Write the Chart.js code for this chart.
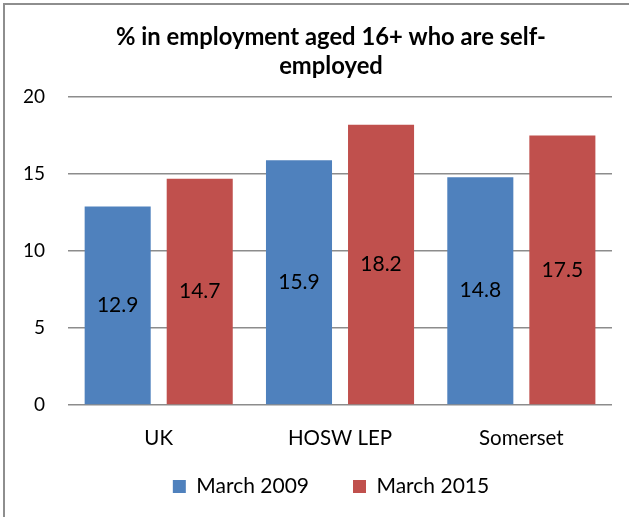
<!DOCTYPE html>
<html>
<head>
<meta charset="utf-8">
<script src="https://cdn.jsdelivr.net/npm/chart.js@4.4.1/dist/chart.umd.min.js"></script>
<style>
  html, body { margin: 0; padding: 0; background: #fff; }
  #wrap { position: relative; width: 629px; height: 517px; }
  #frame { position: absolute; left: 3px; top: 3px; right: 0; bottom: 0;
           border-top: 2px solid #8e8e8e; border-left: 2px solid #8e8e8e; pointer-events: none; }
  canvas { position: absolute; left: 0; top: 0; }
</style>
</head>
<body>
<div id="wrap">
  <canvas id="c" width="629" height="517"></canvas>
  <div id="frame"></div>
</div>
<script>
const titleLines = ['% in employment aged 16+ who are self-', 'employed'];
const categories = ['UK', 'HOSW LEP', 'Somerset'];
const seriesNames = ['March 2009', 'March 2015'];
const march2009 = [12.9, 15.9, 14.8];
const march2015 = [14.7, 18.2, 17.5];
const yTicks = [0, 5, 10, 15, 20];

const FONT = 'Lato, Calibri, Carlito, sans-serif';

const valueLabels = {
  id: 'valueLabels',
  afterDatasetsDraw(chart) {
    const ctx = chart.ctx;
    ctx.save();
    ctx.font = '21px ' + FONT;
    ctx.fillStyle = '#000';
    ctx.textAlign = 'center';
    ctx.textBaseline = 'middle';
    chart.data.datasets.forEach((ds, di) => {
      const meta = chart.getDatasetMeta(di);
      meta.data.forEach((el, i) => {
        const v = ds.data[i];
        ctx.fillText(v.toFixed(1), el.x, (el.y + el.base) / 2);
      });
    });
    ctx.restore();
  }
};

// Centre title/legend like the reference and lift the legend row
const shiftBoxes = {
  id: 'shiftBoxes',
  afterLayout(chart) {
    if (chart.titleBlock) chart.titleBlock.left = 50;
    if (chart.legend) {
      chart.legend.left = 50;
      chart.legend.top -= 36;
    }
  }
};

new Chart(document.getElementById('c'), {
  type: 'bar',
  data: {
    labels: categories,
    datasets: [
      { label: seriesNames[0], data: march2009, backgroundColor: '#4F81BD',
        categoryPercentage: 0.905, barPercentage: 0.805 },
      { label: seriesNames[1], data: march2015, backgroundColor: '#C0504D',
        categoryPercentage: 0.905, barPercentage: 0.805 }
    ]
  },
  options: {
    responsive: false,
    animation: false,
    events: [],
    layout: { padding: { left: 0, right: 17, top: 4, bottom: 7 } },
    plugins: {
      title: {
        display: true,
        text: titleLines,
        color: '#000',
        font: { family: FONT, size: 23.8, weight: 'bold', lineHeight: 1.22 },
        padding: { top: 18.5, bottom: 16.5 }
      },
      legend: {
        display: true,
        position: 'bottom',
        maxHeight: 42,
        labels: {
          color: '#000',
          font: { family: FONT, size: 21 },
          boxWidth: 13, boxHeight: 13,
          padding: 44
        }
      },
      tooltip: { enabled: false }
    },
    scales: {
      x: {
        grid: { display: false, drawTicks: false },
        border: { display: false },
        ticks: { color: '#000', font: { family: FONT, size: 20.5 }, padding: 21 },
        afterFit(scale) { scale.height = 63; }
      },
      y: {
        min: 0, max: 20,
        afterBuildTicks(scale) { scale.ticks = yTicks.map(v => ({ value: v })); },
        grid: { color: '#8c8c8c', lineWidth: 1.5, drawTicks: false },
        border: { display: false },
        ticks: { color: '#000', font: { family: FONT, size: 19 }, padding: 23 }
      }
    }
  },
  plugins: [valueLabels, shiftBoxes]
});
</script>
</body>
</html>
